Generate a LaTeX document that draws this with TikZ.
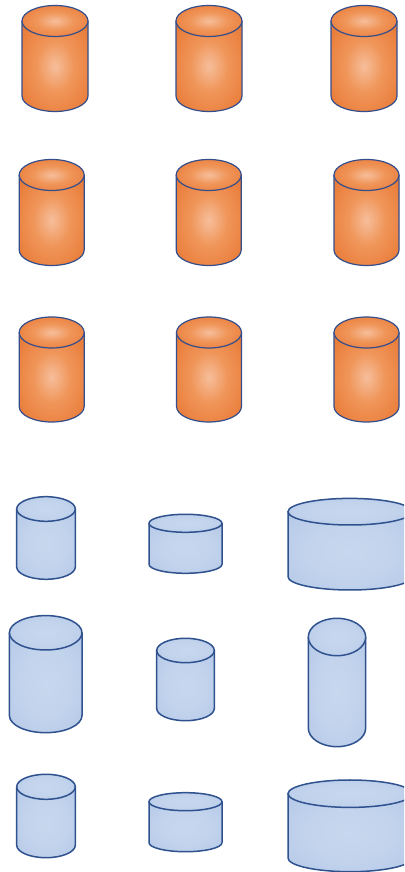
\documentclass[tikz,border=0pt]{standalone}
\usepackage{tikz}
\definecolor{orIn}{RGB}{246,190,155}
\definecolor{orMid}{RGB}{240,150,90}
\definecolor{orOut}{RGB}{232,120,52}
\definecolor{orLine}{RGB}{52,78,140}
\definecolor{blIn}{RGB}{199,215,238}
\definecolor{blMid}{RGB}{194,211,236}
\definecolor{blOut}{RGB}{180,200,231}
\definecolor{blLine}{RGB}{47,82,143}
\pgfdeclareradialshading{orshade}{\pgfpoint{0bp}{0bp}}{color(0bp)=(orIn); color(14bp)=(orMid); color(34bp)=(orOut); color(50bp)=(orOut)}
\pgfdeclareradialshading{blshade}{\pgfpoint{0bp}{0bp}}{color(0bp)=(blIn); color(18bp)=(blMid); color(36bp)=(blOut); color(50bp)=(blOut)}
\tikzset{
  orbody/.style={shading=orshade},
  ortop/.style={shading=orshade, draw=orLine, line width=1.2pt},
  orline/.style={draw=orLine, line width=1.2pt, line join=round},
  blbody/.style={shading=blshade},
  bltop/.style={shading=blshade, draw=blLine, line width=1.5pt},
  blline/.style={draw=blLine, line width=1.5pt, line join=round},
}
% #1 cx, #2 y of top ellipse centre, #3 y of bottom ellipse centre, #4 rx, #5 ry, #6 prefix (or/bl)
\newcommand\mycyl[6]{%
  \path[#6body] ({#1-#4},{872-(#2)}) -- ({#1-#4},{872-(#3)})
     arc[start angle=180,end angle=360,x radius=#4,y radius=#5]
     -- ({#1+#4},{872-(#2)}) -- cycle;
  \path[#6line] ({#1-#4},{872-(#2)}) -- ({#1-#4},{872-(#3)})
     arc[start angle=180,end angle=360,x radius=#4,y radius=#5]
     -- ({#1+#4},{872-(#2)});
  \path[#6top] (#1,{872-(#2)}) ellipse[x radius=#4, y radius=#5];
}
\begin{document}
\begin{tikzpicture}[x=1pt,y=1pt]
\path[use as bounding box, clip] (0,0) rectangle (404,872);
\fill[white] (0,0) rectangle (404,872);
% orange rows
\mycyl{55}{21}{96}{33}{15.5}{or}
\mycyl{209}{21}{96}{33}{15.5}{or}
\mycyl{364}{21}{96}{33}{15.5}{or}
\mycyl{51.7}{175}{250}{32.5}{15.5}{or}
\mycyl{208.7}{175}{250}{32.5}{15.5}{or}
\mycyl{366.5}{175}{250}{32.5}{15.5}{or}
\mycyl{51.7}{332.5}{406.5}{32.5}{15.5}{or}
\mycyl{209}{332.5}{406.5}{32.5}{15.5}{or}
\mycyl{366.5}{332.5}{406.5}{32.5}{15.5}{or}
% blue rows
\mycyl{46}{509}{567}{29.3}{12.3}{bl}
\mycyl{185.5}{523.3}{564.3}{36.5}{9}{bl}
\mycyl{350}{511.7}{576.7}{62}{13.3}{bl}
\mycyl{45.7}{632.8}{715.5}{36.3}{17.2}{bl}
\mycyl{185.5}{650.5}{708.5}{28.8}{12.2}{bl}
\mycyl{337}{637}{728}{28.7}{18.7}{bl}
\mycyl{46}{786.8}{845.2}{29.3}{12.5}{bl}
\mycyl{185.5}{801.7}{842.7}{36.5}{9}{bl}
\mycyl{350}{793.7}{858}{62}{13.7}{bl}
\end{tikzpicture}
\end{document}
